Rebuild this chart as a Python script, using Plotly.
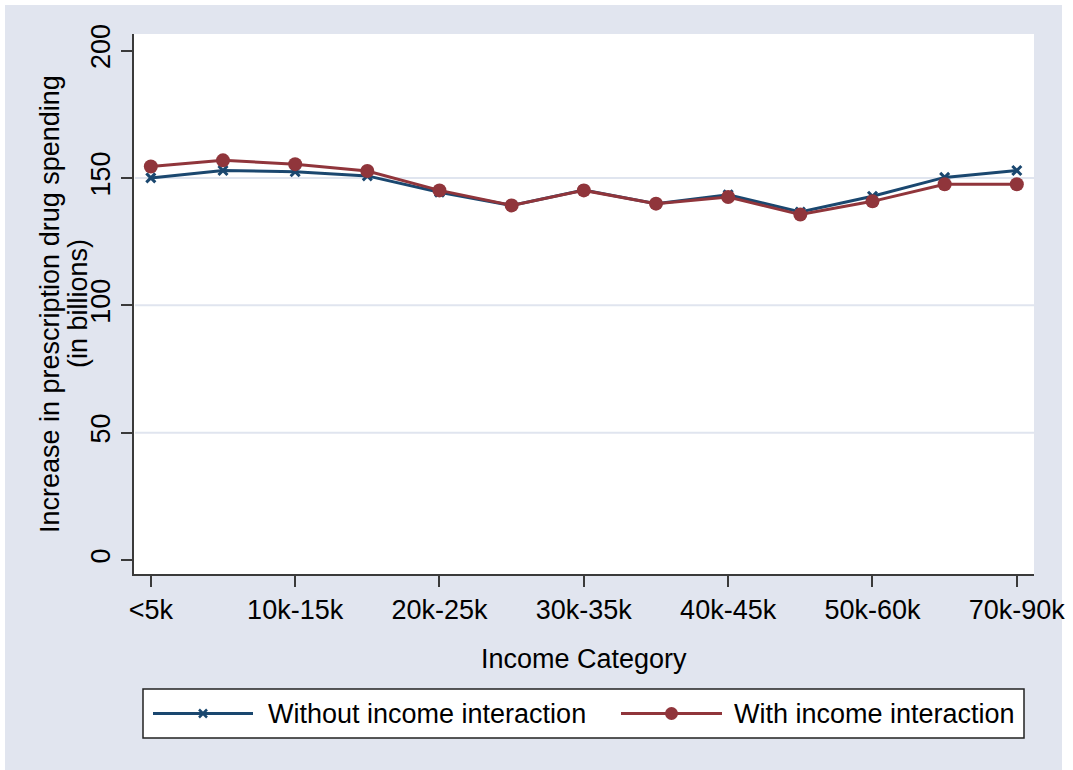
import plotly.graph_objects as go

# Income brackets (x axis) and the two model estimates (in billions)
categories = ["<5k", "5k-10k", "10k-15k", "15k-20k", "20k-25k", "25k-30k", "30k-35k",
              "35k-40k", "40k-45k", "45k-50k", "50k-60k", "60k-70k", "70k-90k"]
without_interaction = [150.0, 152.9, 152.4, 150.8, 144.4, 139.2, 145.2,
                       139.9, 143.4, 136.6, 142.8, 150.2, 152.9]
with_interaction = [154.5, 156.9, 155.4, 152.7, 145.1, 139.2, 145.1,
                    139.9, 142.5, 135.6, 140.8, 147.5, 147.5]
tick_labels = categories[::2]
y_ticks = [0, 50, 100, 150, 200]
grid_values = [50, 100, 150]

series_names = ["Without income interaction", "With income interaction"]

W, H = 1073, 770
BG = "#E1E5EF"
NAVY = "#1A476F"
MAROON = "#90353B"
AXIS = "#3A3A3A"
GRID = "#E0E5EF"
FONT = "Liberation Sans, Arial, sans-serif"
FS = 27


def px(x):
    return x / W


def py(y):
    return 1 - y / H


plot_left, plot_right, plot_top, plot_bottom = 134, 1034, 34, 574

fig = go.Figure()

fig.add_trace(go.Scatter(
    x=categories, y=without_interaction, mode="lines+markers",
    name=series_names[0], showlegend=False,
    line=dict(color=NAVY, width=3),
    marker=dict(symbol="x-thin", size=9, color=NAVY, line=dict(color=NAVY, width=3)),
))
fig.add_trace(go.Scatter(
    x=categories, y=with_interaction, mode="lines+markers",
    name=series_names[1], showlegend=False,
    line=dict(color=MAROON, width=3),
    marker=dict(symbol="circle", size=14, color=MAROON),
))

shapes = [
    # graph region background with thin white border
    dict(type="rect", xref="paper", yref="paper", x0=px(5), x1=px(1062), y0=0, y1=py(5),
         fillcolor=BG, line=dict(width=0), layer="below"),
    # white plot region
    dict(type="rect", xref="paper", yref="paper", x0=px(plot_left), x1=px(plot_right),
         y0=py(plot_bottom), y1=py(plot_top), fillcolor="white", line=dict(width=0), layer="below"),
]
for g in grid_values:
    shapes.append(dict(type="line", xref="paper", yref="y", x0=px(plot_left + 1), x1=px(plot_right),
                       y0=g, y1=g, line=dict(color=GRID, width=2), layer="below"))

# legend box
leg_top, leg_bottom, leg_left, leg_right = 689, 738, 143, 1024
leg_mid = (leg_top + leg_bottom) / 2
shapes.append(dict(type="rect", xref="paper", yref="paper", x0=px(leg_left), x1=px(leg_right),
                   y0=py(leg_bottom), y1=py(leg_top), fillcolor="white",
                   line=dict(color="#222222", width=1.5)))
# legend keys
key_spec = [(153, 253, NAVY), (621, 722, MAROON)]
for x0, x1, col in key_spec:
    shapes.append(dict(type="line", xref="paper", yref="paper", x0=px(x0), x1=px(x1),
                       y0=py(leg_mid), y1=py(leg_mid), line=dict(color=col, width=3)))
# x marker for the first key
cx = (key_spec[0][0] + key_spec[0][1]) / 2
for dy in (-1, 1):
    shapes.append(dict(type="line", xref="paper", yref="paper", x0=px(cx - 4), x1=px(cx + 4),
                       y0=py(leg_mid - 4 * dy), y1=py(leg_mid + 4 * dy),
                       line=dict(color=NAVY, width=2.5)))
# dot marker for the second key
cx2 = (key_spec[1][0] + key_spec[1][1]) / 2
shapes.append(dict(type="circle", xref="paper", yref="paper", x0=px(cx2 - 6.5), x1=px(cx2 + 6.5),
                   y0=py(leg_mid + 6.5), y1=py(leg_mid - 6.5), fillcolor=MAROON,
                   line=dict(color=MAROON, width=0)))

annotations = [
    dict(text="Increase in prescription drug spending", xref="paper", yref="paper",
         x=px(50), y=py((plot_top + plot_bottom) / 2), textangle=-90, showarrow=False,
         font=dict(family=FONT, size=FS, color="black"), xanchor="center", yanchor="middle"),
    dict(text="(in billions)", xref="paper", yref="paper",
         x=px(78), y=py((plot_top + plot_bottom) / 2), textangle=-90, showarrow=False,
         font=dict(family=FONT, size=FS, color="black"), xanchor="center", yanchor="middle"),
    dict(text="Income Category", xref="paper", yref="paper",
         x=px((plot_left + plot_right) / 2), y=py(659), showarrow=False,
         font=dict(family=FONT, size=FS, color="black"), xanchor="center", yanchor="middle"),
    dict(text=series_names[0], xref="paper", yref="paper", x=px(266), y=py(leg_mid),
         showarrow=False, font=dict(family=FONT, size=FS, color="black"),
         xanchor="left", yanchor="middle"),
    dict(text=series_names[1], xref="paper", yref="paper", x=px(732), y=py(leg_mid),
         showarrow=False, font=dict(family=FONT, size=FS, color="black"),
         xanchor="left", yanchor="middle"),
]

fig.update_layout(
    width=W, height=H,
    autosize=False,
    margin=dict(l=0, r=0, t=0, b=0),
    paper_bgcolor="white",
    plot_bgcolor="white",
    font=dict(family=FONT, size=FS, color="black"),
    showlegend=False,
    shapes=shapes,
    annotations=annotations,
    xaxis=dict(
        domain=[px(plot_left), px(plot_right)],
        automargin=False,
        type="category", categoryorder="array", categoryarray=categories,
        range=[-0.233, 12.238],
        tickmode="array", tickvals=tick_labels, ticktext=tick_labels,
        showline=True, linecolor=AXIS, linewidth=2,
        ticks="outside", ticklen=11, tickwidth=2, tickcolor=AXIS,
        showgrid=False, zeroline=False,
        tickfont=dict(family=FONT, size=FS, color="black"),
    ),
    yaxis=dict(
        domain=[py(plot_bottom), py(plot_top)],
        automargin=False,
        range=[-5.5, 206.5],
        tickmode="array", tickvals=y_ticks,
        tickangle=-90,
        showline=True, linecolor=AXIS, linewidth=2,
        ticks="outside", ticklen=11, tickwidth=2, tickcolor=AXIS,
        showgrid=False, zeroline=False,
        tickfont=dict(family=FONT, size=FS, color="black"),
    ),
)

fig.write_html("out.html", config={"displayModeBar": False})
